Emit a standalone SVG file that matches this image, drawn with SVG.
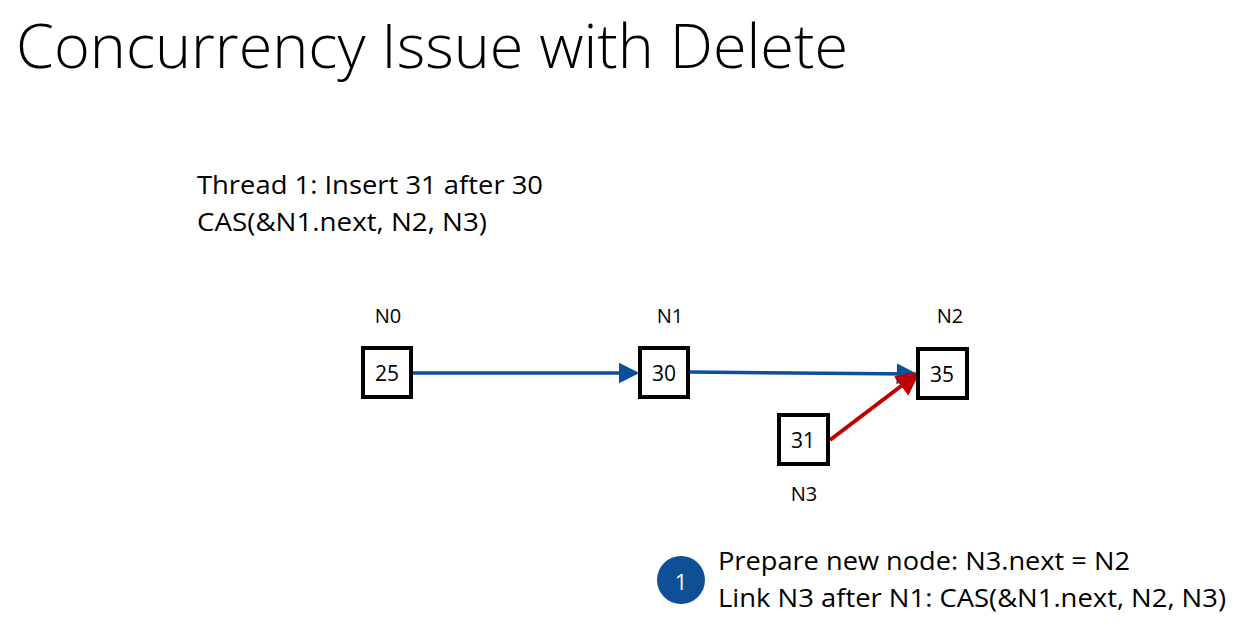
<svg xmlns="http://www.w3.org/2000/svg" width="1250" height="643" viewBox="0 0 1250 643">
<style>
text{font-family:"Open Sans","Liberation Sans",sans-serif;fill:#000}
.title{font-size:60px;font-weight:300}
.body{font-size:26px}
.lbl{font-size:20px;text-anchor:middle}
.val{font-size:21px;text-anchor:middle;dominant-baseline:central}
.box{fill:#fff;stroke:#000;stroke-width:4}
.blue{stroke:#0a4f9c;stroke-width:3.5;fill:none}
.red{stroke:#c00000;stroke-width:4;fill:none}
</style>
<defs>
<marker id="ab" markerWidth="6" markerHeight="6" refX="5" refY="3" orient="auto" markerUnits="strokeWidth"><path d="M0,0 L6,3 L0,6 z" fill="#0a4f9c"/></marker>
<marker id="ar" markerWidth="6" markerHeight="6" refX="5" refY="3" orient="auto" markerUnits="strokeWidth"><path d="M0,0 L6,3 L0,6 z" fill="#c00000"/></marker>
</defs>
<rect width="1250" height="643" fill="#fff"/>
<text class="title" x="16" y="68" textLength="832" lengthAdjust="spacingAndGlyphs">Concurrency Issue with Delete</text>
<text class="body" x="197" y="194" textLength="346" lengthAdjust="spacingAndGlyphs">Thread 1: Insert 31 after 30</text>
<text class="body" x="197" y="231" textLength="290" lengthAdjust="spacingAndGlyphs">CAS(&amp;N1.next, N2, N3)</text>
<g id="connectors">
<line class="blue" x1="413" y1="373" x2="636" y2="373" marker-end="url(#ab)"/>
<line class="blue" x1="690" y1="372" x2="914" y2="374" marker-end="url(#ab)"/>
<line class="red" x1="830" y1="440" x2="917" y2="374" marker-end="url(#ar)"/>
</g>
<g id="N0"><rect class="box" x="363" y="348" width="48" height="49"/><text class="val" x="387" y="373">25</text><text class="lbl" x="388" y="323">N0</text></g>
<g id="N1"><rect class="box" x="640" y="348" width="48" height="49"/><text class="val" x="664" y="373">30</text><text class="lbl" x="670" y="323">N1</text></g>
<g id="N2"><rect class="box" x="918" y="349" width="49" height="49"/><text class="val" x="942" y="374">35</text><text class="lbl" x="950" y="323">N2</text></g>
<g id="N3"><rect class="box" x="779" y="415" width="49" height="49"/><text class="val" x="803" y="440">31</text><text class="lbl" x="804" y="501">N3</text></g>
<g id="step1"><circle cx="681" cy="580" r="24" fill="#0e4f96"/><text x="681" y="581" style="font-size:22px;fill:#fff;text-anchor:middle;dominant-baseline:central">1</text></g>
<text class="body" x="718" y="570" textLength="412" lengthAdjust="spacingAndGlyphs">Prepare new node: N3.next = N2</text>
<text class="body" x="718" y="607" textLength="508" lengthAdjust="spacingAndGlyphs">Link N3 after N1: CAS(&amp;N1.next, N2, N3)</text>
</svg>
